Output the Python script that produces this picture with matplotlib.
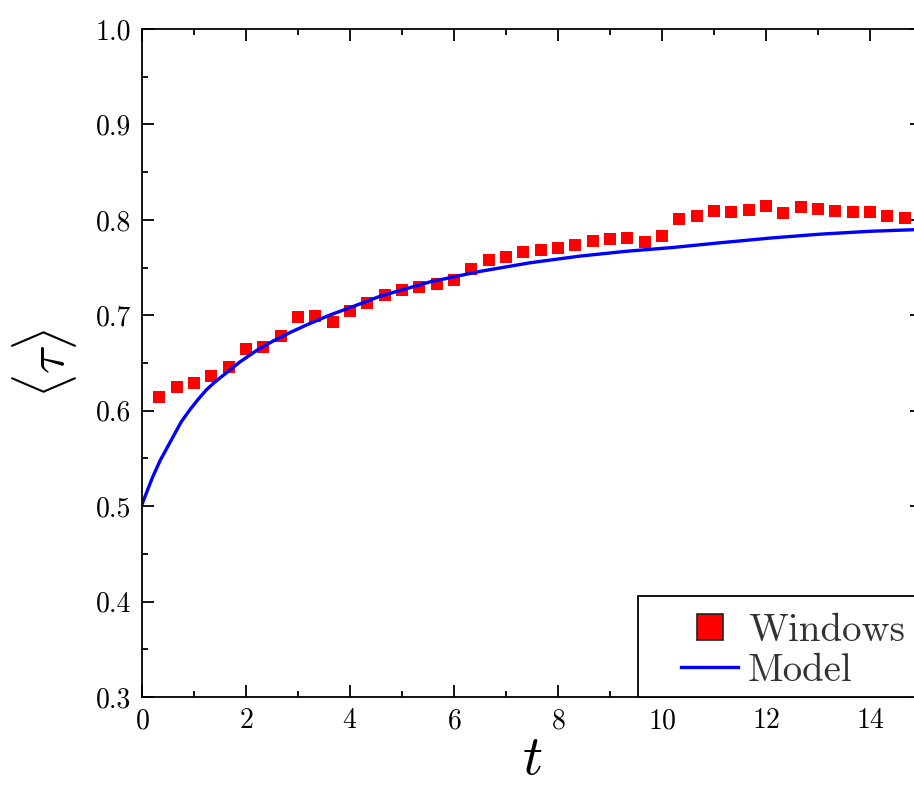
import numpy as np
import matplotlib
matplotlib.use("Agg")
import matplotlib.pyplot as plt
from matplotlib.lines import Line2D
from matplotlib.patches import Rectangle

plt.rcParams['font.family'] = 'serif'
plt.rcParams['font.serif'] = ['cmr10']
plt.rcParams['mathtext.fontset'] = 'cm'
plt.rcParams['axes.formatter.use_mathtext'] = True

# windows data, t = k/3
t_win = np.arange(1, 45) / 3.0
tau_win = [0.614, 0.625, 0.629, 0.636, 0.646, 0.665, 0.667, 0.678, 0.698, 0.699,
           0.693, 0.704, 0.713, 0.721, 0.727, 0.730, 0.733, 0.737, 0.748, 0.758,
           0.761, 0.766, 0.768, 0.771, 0.774, 0.778, 0.780, 0.781, 0.777, 0.783,
           0.801, 0.804, 0.809, 0.808, 0.810, 0.815, 0.807, 0.813, 0.811, 0.809,
           0.808, 0.808, 0.804, 0.802]

# model curve
t_model = [0.0, 0.05, 0.1, 0.2, 0.35, 0.5, 0.6, 0.75, 0.92, 1.08, 1.24, 1.4, 1.56,
           1.88, 2.2, 2.52, 2.85, 3.17, 3.6, 4.0, 4.58, 5.54, 6.5, 7.46, 8.42, 9.3,
           10.2, 11.12, 12.1, 13.04, 14.0, 15.0]
tau_model = [0.502, 0.509, 0.516, 0.530, 0.548, 0.563, 0.573, 0.588, 0.601, 0.612,
             0.622, 0.630, 0.637, 0.651, 0.663, 0.673, 0.682, 0.690, 0.700, 0.708,
             0.720, 0.735, 0.746, 0.755, 0.762, 0.767, 0.771, 0.776, 0.781, 0.785,
             0.788, 0.790]

fig = plt.figure(figsize=(9.14, 7.88), dpi=100)
# right spine sits just past the image edge in the original
ax = fig.add_axes([0.1554, 0.1155, 0.8534, 0.8477])

ax.plot(t_win, tau_win, linestyle='none', marker='s', markersize=8.5,
        color='#ff0000', markeredgewidth=0)
ax.plot(t_model, tau_model, color='#0000ff', linewidth=2.4)

ax.set_xlim(0, 15)
ax.set_ylim(0.3, 1.0)
ax.set_xticks(np.arange(0, 15, 2))
ax.set_xticks(np.arange(1, 16, 2), minor=True)
ax.set_yticks(np.arange(0.3, 1.01, 0.1))
ax.set_yticks(np.arange(0.35, 1.0, 0.1), minor=True)
ax.set_yticklabels([f'{v:.1f}' for v in np.arange(0.3, 1.01, 0.1)])
ax.tick_params(which='both', direction='in', top=True, right=True, labelsize=20,
               width=1.3, pad=8)
ax.tick_params(which='major', length=8.6)
ax.tick_params(which='minor', length=4.3)
for s in ax.spines.values():
    s.set_linewidth(1.3)

ax.set_xlabel(r'$t$', fontsize=40, labelpad=1)
ax.set_ylabel(r'$\langle\tau\rangle$', fontsize=38, labelpad=12)

# legend frame, runs off the right edge like the original
ax.add_patch(Rectangle((0.636, 0.0), 0.5, 0.151, transform=ax.transAxes,
                       facecolor='white', edgecolor='black', linewidth=1.3,
                       clip_on=False, zorder=4))

handles = [Line2D([], [], linestyle='none', marker='s', markersize=19,
                  markerfacecolor='#ff0000', markeredgecolor='#222222', markeredgewidth=1.2),
           Line2D([], [], color='#0000ff', linewidth=2.4)]
leg = ax.legend(handles, ['Windows', 'Model'], loc='center left',
                bbox_to_anchor=(0.691, 0.069), fontsize=28, frameon=False,
                borderaxespad=0, borderpad=0, handlelength=1.47, handletextpad=0.25,
                labelspacing=0.12)
leg.set_zorder(5)
for txt in leg.get_texts():
    txt.set_color('#333333')

fig.savefig('out.png', dpi=100)
